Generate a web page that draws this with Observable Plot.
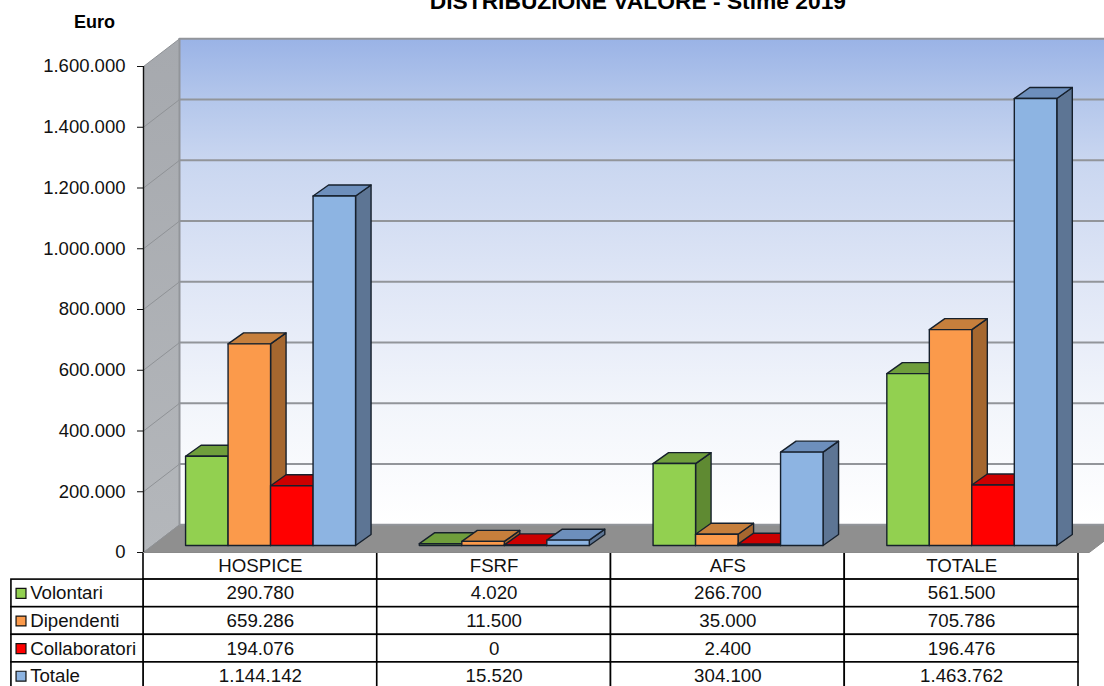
<!DOCTYPE html>
<html>
<head>
<meta charset="utf-8">
<script src="https://cdn.jsdelivr.net/npm/d3@7"></script>
<script src="https://cdn.jsdelivr.net/npm/@observablehq/plot@0.6"></script>
<style>
html,body{margin:0;padding:0;background:#fff;overflow:hidden}
#chart{position:relative;width:1104px;height:686px}
svg{display:block;position:absolute;left:0;font-family:"Liberation Sans",Arial,sans-serif}
</style>
</head>
<body>
<div id="chart"></div>
<script>
const categories = ["HOSPICE", "FSRF", "AFS", "TOTALE"];
const seriesNames = ["Volontari", "Dipendenti", "Collaboratori", "Totale"];
const volontari = [290780, 4020, 266700, 561500];
const dipendenti = [659286, 11500, 35000, 705786];
const collaboratori = [194076, 0, 2400, 196476];
const totale = [1144142, 15520, 304100, 1463762];
const yTicks = [0, 200000, 400000, 600000, 800000, 1000000, 1200000, 1400000, 1600000];
const titleText = "DISTRIBUZIONE VALORE - Stime 2019";
const unitText = "Euro";

const seriesValues = [volontari, dipendenti, collaboratori, totale];
const frontColors = ["#92d050", "#fb9a4b", "#ff0000", "#8db4e2"];
const topColors = ["#6f9e3c", "#c67f3c", "#cc0000", "#6d8fbc"];
const sideColors = ["#5f8a32", "#a5672f", "#a00000", "#5d7594"];

const fmt = d3.formatLocale({decimal: ",", thousands: ".", grouping: [3], currency: ["€", ""]}).format(",d");

// 3D projection, expressed in scale units (category widths, euros)
const wallDX = 0.154, wallDV = 91000, farX = 4.2;
const barStart = 0.180, barW = 0.1818, barDX = 0.0663, barDV = 36200, barBase = 23000, topLift = 25000, heightGain = 1.004;

const polys = [];
categories.forEach((c, ci) => {
  seriesValues.forEach((vals, si) => {
    const v = vals[ci];
    const x0 = ci + barStart + si * barW, x1 = x0 + barW;
    const b = barBase, t = topLift + v * heightGain;
    const add = (id, fill, pts) => [...pts, pts[0]].forEach(p => polys.push({id: `${ci}-${si}-${id}`, fill, x: p[0], y: p[1]}));
    add("side", sideColors[si], [[x1, b], [x1 + barDX, b + barDV], [x1 + barDX, t + barDV], [x1, t]]);
    add("top", topColors[si], [[x0, t], [x0 + barDX, t + barDV], [x1 + barDX, t + barDV], [x1, t]]);
    add("front", frontColors[si], [[x0, b], [x1, b], [x1, t], [x0, t]]);
  });
});

const wall = [[wallDX, wallDV], [farX, wallDV], [farX, 1600000 + wallDV], [wallDX, 1600000 + wallDV], [wallDX, wallDV]].map(p => ({x: p[0], y: p[1]}));
const sideWall = [[0, 0], [wallDX, wallDV], [wallDX, 1600000 + wallDV], [0, 1600000], [0, 0]].map(p => ({x: p[0], y: p[1]}));
const floor = [[0, 0], [wallDX, wallDV], [farX, wallDV], [farX - wallDX, 0], [0, 0]].map(p => ({x: p[0], y: p[1]}));
const gridBack = yTicks.flatMap(v => [{k: v, x: wallDX, y: v + wallDV}, {k: v, x: farX, y: v + wallDV}]);
const gridSide = yTicks.flatMap(v => [{k: v, x: 0, y: v}, {k: v, x: wallDX, y: v + wallDV}]);

const defs = () => {
  const d = d3.create("svg:defs");
  const grad = (id, stops) => {
    const g = d.append("linearGradient").attr("id", id).attr("x1", 0).attr("x2", 0).attr("y1", 0).attr("y2", 1);
    stops.forEach(([o, c]) => g.append("stop").attr("offset", o).attr("stop-color", c));
  };
  grad("wallGrad", [[0, "#9ab3e6"], [0.12, "#b3c6eb"], [0.25, "#c9d6f0"], [0.5, "#dfe6f6"], [0.75, "#f2f5fb"], [1, "#ffffff"]]);
  grad("sideGrad", [[0, "#a6a9ae"], [1, "#b4b7bb"]]);
  return d.node();
};

const xOpts = {type: "linear", domain: [0, 4], range: [143, 1078]};

// Data table under the chart
const rows = ["header", ...seriesNames];
const labelX = -0.565;
const cells = [];
categories.forEach((c, i) => rows.forEach(r => cells.push({x1: i, x2: i + 1, row: r})));
seriesNames.forEach(r => cells.push({x1: labelX, x2: 0, row: r}));
const texts = [];
categories.forEach((c, i) => {
  texts.push({x: i + 0.5, row: "header", t: c});
  seriesValues.forEach((vals, si) => texts.push({x: i + 0.5, row: seriesNames[si], t: fmt(vals[i])}));
});

const table = Plot.plot({
  width: 1104, height: 133, margin: 0,
  style: {background: "transparent", overflow: "hidden"},
  x: {...xOpts, axis: null},
  y: {type: "band", domain: rows, range: [-1.5, 136.5], padding: 0, round: false, axis: null},
  marks: [
    Plot.barX(cells, {x1: "x1", x2: "x2", y: "row", fill: "white", stroke: "#000", strokeWidth: 1.6}),
    Plot.text(texts, {x: "x", y: "row", text: "t", fontSize: 18.7, fill: "#111"}),
    Plot.dot(seriesNames, {x: -0.524, y: d => d, symbol: "square", r: 5.6, fill: (d, i) => frontColors[i], stroke: "#111", strokeWidth: 1.2}),
    Plot.text(seriesNames, {x: -0.485, y: d => d, text: d => d, textAnchor: "start", fontSize: 18.7, fill: "#111"})
  ]
});
table.style.top = "553px";

const chart = Plot.plot({
  width: 1104, height: 566, margin: 0, marginLeft: 143,
  style: {background: "transparent", overflow: "hidden"},
  x: {...xOpts, axis: null},
  y: {type: "linear", domain: [0, 1600000], range: [552, 66]},
  marks: [
    defs,
    Plot.line(wall, {x: "x", y: "y", fill: "url(#wallGrad)", stroke: "none"}),
    Plot.line(sideWall, {x: "x", y: "y", fill: "url(#sideGrad)", stroke: "none"}),
    Plot.line(floor, {x: "x", y: "y", fill: "#8f8f8f", stroke: "#8a8a8a", strokeWidth: 1}),
    Plot.line(gridSide, {x: "x", y: "y", z: "k", stroke: "#8f9296", strokeWidth: 1}),
    Plot.line(gridBack, {x: "x", y: "y", z: "k", stroke: "#92959a", strokeWidth: 2}),
    Plot.ruleX([wallDX], {y1: wallDV, y2: 1600000 + wallDV, stroke: "#92959a", strokeWidth: 2}),
    Plot.line(polys, {x: "x", y: "y", z: "id", fill: "fill", stroke: "#16202c", strokeWidth: 1.4, strokeLinejoin: "round"}),
    Plot.ruleX([0], {y1: 0, y2: 1600000, stroke: "#111", strokeWidth: 1.4}),
    Plot.axisY({ticks: yTicks, tickFormat: fmt, tickSize: 6, label: null, fontSize: 18.5, tickPadding: 12, stroke: "#111", fill: "#111"}),
    Plot.text([unitText], {x: -0.21, y: 1745000, text: d => d, fontSize: 18, fontWeight: "bold", fill: "#000"}),
    Plot.text([titleText], {x: 2.115, y: 1813000, text: d => d, fontSize: 22.8, fontWeight: "bold", fill: "#000"})
  ]
});
chart.style.top = "0";

document.getElementById("chart").append(table, chart);
</script>
</body>
</html>
